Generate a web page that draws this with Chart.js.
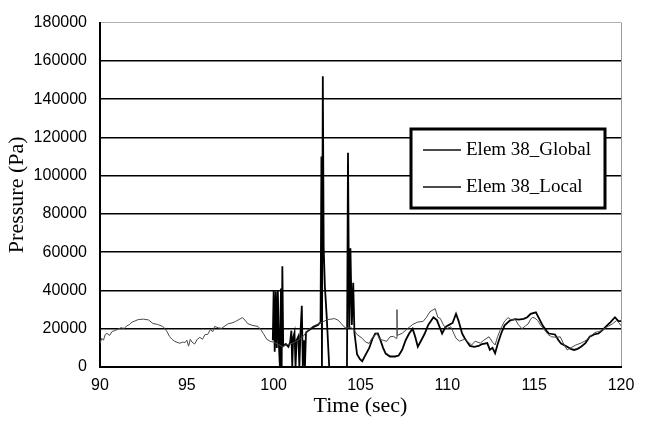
<!DOCTYPE html>
<html>
<head>
    <title>Elem 38 Pressure</title>
    <script src="https://cdn.jsdelivr.net/npm/chart.js"></script>
    <style>
        body { margin: 0; background: #fff; }
        #wrap { width: 646px; height: 423px; }
    </style>
</head>
<body>
    <div id="wrap"><canvas id="chart"></canvas></div>

    <script>
        // time (sec) / pressure (Pa)
        const globalTime = [90.0, 90.1, 90.2, 90.3, 90.4, 90.55, 90.7, 90.85, 91.0, 91.2, 91.4, 91.55, 91.7, 91.85, 92.0, 92.2, 92.5, 92.8,
            93.05, 93.3, 93.6, 93.75, 93.85, 94.0, 94.15, 94.3, 94.6, 94.75, 94.9, 95.0, 95.1, 95.2, 95.3, 95.45, 95.6, 95.75, 95.9,
            96.05, 96.2, 96.35, 96.5, 96.6, 96.8, 97.0, 97.2, 97.4, 97.6, 97.8, 98.0, 98.2, 98.35, 98.5, 98.75, 99.1, 99.25, 99.4,
            99.6, 99.8, 100.0, 100.25, 100.5, 100.7, 100.9, 101.1, 101.3, 101.5, 101.7, 101.9, 102.1, 102.3, 102.5, 102.8, 103.1,
            103.3, 103.5, 103.7, 103.9, 104.05, 104.2, 104.4, 104.6, 104.8, 105.1, 105.3, 105.5, 105.65, 105.95, 106.1, 106.3,
            106.5, 106.7, 106.9, 107.05, 107.1, 107.12, 107.4, 107.7, 108.0, 108.3, 108.6, 108.8, 109.0, 109.3, 109.45, 109.6,
            109.8, 110.0, 110.2, 110.5, 110.7, 111.0, 111.2, 111.4, 111.6, 111.9, 112.1, 112.4, 112.6, 112.75, 112.9, 113.1, 113.3,
            113.5, 113.7, 113.9, 114.1, 114.3, 114.5, 114.65, 114.8, 114.9, 115.05, 115.2, 115.4, 115.55, 115.8, 116.0, 116.3,
            116.5, 116.7, 116.9, 117.1, 117.4, 117.7, 118.0, 118.3, 118.5, 118.7, 118.9, 119.1, 119.3, 119.5, 119.75, 119.9, 120.0];
        const globalPressure = [12400, 15000, 14000, 17000, 17600, 16500, 18600, 19000, 19600, 20500, 20200, 21500, 22200, 23500, 24000, 24800, 25000, 24600,
            22700, 22300, 21200, 20000, 18600, 16000, 14500, 13400, 12400, 13000, 12800, 14000, 10900, 14500, 13000, 12000, 14500, 15500, 14500,
            17000, 17000, 19500, 18500, 21200, 20500, 20200, 21500, 22700, 23000, 23800, 24800, 25800, 24500, 22700, 21800, 21200, 19600, 17600,
            14500, 13400, 13000, 12000, 10500, 11500, 11900, 12500, 13400, 14500, 16000, 18500, 20200, 21500, 22200, 23500, 24800,
            25000, 25300, 24500, 22700, 21000, 20200, 21000, 19600, 17000, 15000, 13000, 12300, 15000, 17600, 14500, 14000,
            13400, 15800, 16000, 15000, 30000, 16500, 17600, 20000, 22200, 23500, 23800, 26000, 28900, 30500, 26000, 25300,
            21500, 20200, 21000, 15000, 13500, 14500, 13000, 11500, 13500, 12500, 14000, 15800, 13000, 11500, 16000, 20500, 24000,
            25800, 24500, 25000, 22000, 20000, 21500, 22500, 25000, 26000, 25500, 24300, 21500, 20000, 17000, 15800, 15500,
            15800, 12000, 8900, 10000, 11500, 12500, 14000, 16500, 18000, 18500, 19000, 20500, 21500, 22500, 24300, 23000, 21500];

        const localTime = [99.95, 100.0, 100.06, 100.12, 100.18, 100.24, 100.3, 100.36, 100.42, 100.46, 100.5, 100.55, 100.7, 100.85, 100.95,
            101.02, 101.07, 101.12, 101.2, 101.26, 101.32, 101.42, 101.48, 101.54, 101.62, 101.68, 101.74, 101.8, 101.86, 102.0, 102.3,
            102.55, 102.7, 102.75, 102.78, 102.83, 102.88, 102.95, 103.05, 103.2, 104.22, 104.28, 104.35, 104.42, 104.5, 104.58, 104.65,
            104.8, 104.97, 105.1, 105.25, 105.5, 105.7, 105.85, 106.0, 106.15, 106.3, 106.45, 106.7, 107.0, 107.2, 107.4, 107.6, 107.8,
            108.0, 108.15, 108.3, 108.5, 108.7, 108.9, 109.2, 109.4, 109.7, 109.9, 110.1, 110.3, 110.5, 110.65, 110.85, 111.0, 111.3,
            111.55, 111.8, 112.0, 112.3, 112.45, 112.6, 112.75, 112.9, 113.1, 113.3, 113.6, 113.9, 114.1, 114.4, 114.6, 114.8, 115.1,
            115.3, 115.5, 115.7, 115.85, 116.2, 116.4, 116.55, 116.9, 117.1, 117.3, 117.5, 117.7, 117.95, 118.2, 118.45, 118.7, 118.9,
            119.2, 119.4, 119.65, 119.85, 120.0];
        const localPressure = [14000, 40000, 8000, 39500, 10000, 40000, 12000, 0, 41000, 0, 52700, 11000, 12000, 10500, 13000,
            19000, 0, 15000, 18000, 0, 14000, 16000, 0, 17000, 32000, 0, 14000, 0, 18000, 19000, 21000,
            22000, 23500, 110000, 0, 152000, 62000, 42000, 27000, 0, 0, 112000, 20000, 62000, 22000, 44000, 18000,
            6700, 4100, 3000, 5700, 9800, 15000, 17500, 17600, 14000, 10000, 7000, 5500, 5500, 6000, 9000, 14000, 17500,
            20000, 15800, 10600, 14000, 17500, 22000, 26000, 24500, 17500, 21000, 22000, 23000, 27800, 24000, 17500, 15000, 11000,
            10500, 11000, 12000, 12500, 9000, 10000, 7200, 12000, 17500, 21800, 24300, 25000, 24800, 25200, 26000, 27800, 28600,
            25000, 21500, 19000, 17500, 17000, 14000, 12300, 10600, 9500, 8900, 9500, 10600, 12500, 15800, 17000, 17500, 19000,
            21800, 23500, 26000, 24000, 24000];

        const seriesNames = ["Elem 38_Global", "Elem 38_Local"];
        const timeTicks = [90, 95, 100, 105, 110, 115, 120];

        function toPoints(xs, ys) {
            return xs.map((x, i) => ({ x: x, y: ys[i] }));
        }

        // legend drawn inside the plot, boxed like the original
        const boxLegend = {
            id: 'boxLegend',
            afterDraw(chart) {
                const ctx = chart.ctx;
                const x = 411, y = 129, w = 194, h = 79;
                ctx.save();
                ctx.fillStyle = '#fff';
                ctx.fillRect(x, y, w, h);
                ctx.lineWidth = 3;
                ctx.strokeStyle = '#000';
                ctx.strokeRect(x, y, w, h);
                ctx.font = '19px "Liberation Serif", "Times New Roman", serif';
                ctx.textBaseline = 'middle';
                chart.data.datasets.forEach((ds, i) => {
                    const ly = y + 21 + i * 37;
                    ctx.beginPath();
                    ctx.lineWidth = 1.6;
                    ctx.strokeStyle = '#111';
                    ctx.moveTo(x + 12, ly);
                    ctx.lineTo(x + 50, ly);
                    ctx.stroke();
                    ctx.fillStyle = '#000';
                    ctx.fillText(ds.label, x + 55, ly);
                });
                ctx.restore();
            }
        };

        new Chart(document.getElementById('chart'), {
            type: 'scatter',
            data: {
                datasets: [
                    {
                        label: seriesNames[0],
                        data: toPoints(globalTime, globalPressure),
                        showLine: true,
                        borderColor: '#4a4a4a',
                        borderWidth: 1,
                        pointRadius: 0,
                        tension: 0
                    },
                    {
                        label: seriesNames[1],
                        data: toPoints(localTime, localPressure),
                        showLine: true,
                        borderColor: '#000',
                        borderWidth: 1.8,
                        pointRadius: 0,
                        tension: 0
                    }
                ]
            },
            options: {
                responsive: true,
                maintainAspectRatio: false,
                animation: false,
                layout: { padding: { top: 15, right: 25, left: 0, bottom: 0 } },
                plugins: {
                    legend: { display: false },
                    tooltip: { enabled: false }
                },
                scales: {
                    x: {
                        type: 'linear',
                        min: 90,
                        max: 120,
                        afterBuildTicks: (s) => { s.ticks = timeTicks.map(v => ({ value: v })); },
                        afterFit: (s) => { s.height = 56; },
                        ticks: {
                            color: '#000',
                            padding: 9,
                            callback: (v) => String(v),
                            font: { family: '"Liberation Sans", Arial, sans-serif', size: 16 }
                        },
                        grid: {
                            drawTicks: false,
                            color: (c) => c.tick && c.tick.value === 120 ? '#9a9a9a' : 'rgba(0,0,0,0)',
                            lineWidth: 1
                        },
                        border: { color: '#000', width: 2 },
                        title: {
                            display: true,
                            text: 'Time (sec)',
                            color: '#000',
                            padding: { top: 0 },
                            font: { family: '"Liberation Serif", "Times New Roman", serif', size: 22 }
                        }
                    },
                    y: {
                        min: 0,
                        max: 180000,
                        afterFit: (s) => { s.width = 100; },
                        ticks: {
                            stepSize: 20000,
                            color: '#000',
                            padding: 13,
                            callback: (v) => String(v),
                            font: { family: '"Liberation Sans", Arial, sans-serif', size: 16 }
                        },
                        grid: {
                            drawTicks: false,
                            color: (c) => c.tick && c.tick.value === 180000 ? '#b0b0b0' : '#000',
                            lineWidth: (c) => c.tick && c.tick.value === 180000 ? 1 : 1.6
                        },
                        border: { color: '#000', width: 2 },
                        title: {
                            display: true,
                            text: 'Pressure (Pa)',
                            color: '#000',
                            padding: { bottom: 0 },
                            font: { family: '"Liberation Serif", "Times New Roman", serif', size: 22 }
                        }
                    }
                }
            },
            plugins: [boxLegend]
        });
    </script>
</body>
</html>
